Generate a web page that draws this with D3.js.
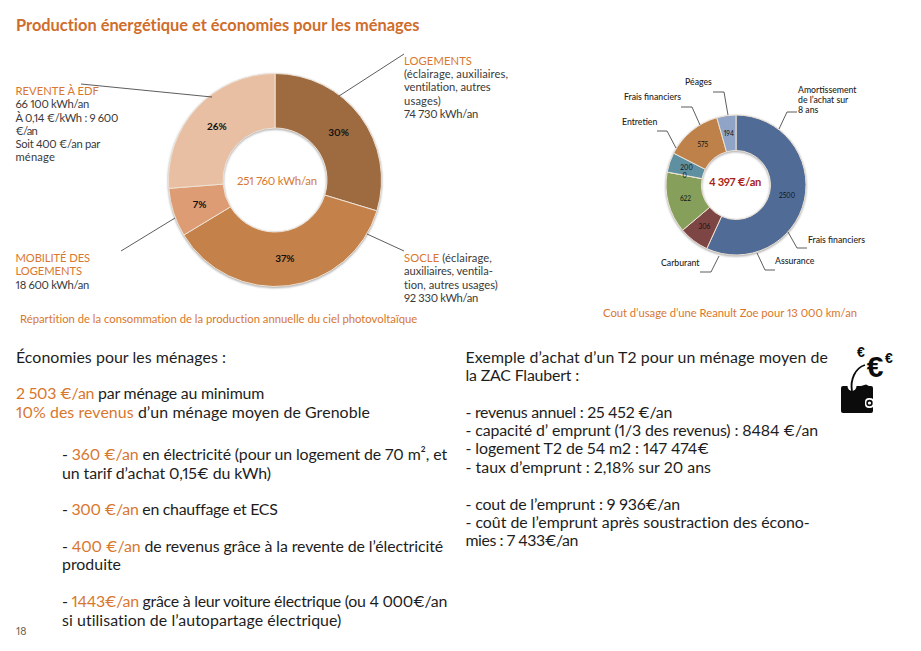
<!DOCTYPE html>
<html lang="fr">
<head>
<meta charset="utf-8">
<script src="https://cdn.jsdelivr.net/npm/d3@7"></script>
<style>
  html, body { margin: 0; padding: 0; background: #fff; }
  svg { display: block; font-family: Lato, "Open Sans", sans-serif; font-variant-numeric: proportional-nums; }
</style>
</head>
<body>
<div id="chart"></div>
<script>
// Production donut
const prodCategories = ["Logements", "Socle", "Mobilité des logements", "Revente à EDF"];
const prodValues = [74730, 92330, 18600, 66100];
const prodPercents = ["30%", "37%", "7%", "26%"];
const prodColors = ["#9e6b41", "#c5814a", "#dd9c73", "#e8bfa3"];

// Zoe cost donut
const zoeCategories = ["Amortissement", "Frais financiers", "Assurance", "Carburant", "Entretien", "Frais financiers 2", "Péages"];
const zoeValues = [2500, 306, 622, 0, 200, 575, 194];
const zoeColors = ["#506b95", "#7e4545", "#86a05b", "#86a05b", "#5f90a2", "#bd8149", "#8fa4c6"];

const ORANGE = "#d8772e";
const INK = "#1d1d1d";
const GREY = "#3a3a3a";

const svg = d3.select("#chart").append("svg").attr("width", 921).attr("height", 651);

// Squeeze or spread a line so it ends where it ends in the page
function fitLine(t, x, right) {
  const len = t.node().getComputedTextLength();
  const n = t.text().length;
  t.style("letter-spacing", `${(right - x - len) / n}px`);
}

// Title
svg.append("text").attr("x", 16).attr("y", 31)
  .attr("font-size", 16.4).attr("font-weight", 700).attr("fill", "#cf6d2b")
  .text("Production énergétique et économies pour les ménages")
  .call(fitLine, 16, 420);

function drawDonut(cx, cy, outer, inner, values, colors, labels, labelSize, labelWeight) {
  const pie = d3.pie().sort(null).value((d) => d)(values);
  const arc = d3.arc().innerRadius(inner).outerRadius(outer);
  const g = svg.append("g").attr("transform", `translate(${cx}, ${cy})`);

  g.append("g")
    .style("filter", "drop-shadow(0px 1px 1px rgba(90,90,90,0.55))")
    .selectAll("path")
    .data(pie)
    .join("path")
    .attr("d", arc)
    .attr("fill", (d, i) => colors[i])
    .attr("stroke", "#eee3d6")
    .attr("stroke-width", 1);

  g.selectAll("text")
    .data(pie)
    .join("text")
    .attr("transform", (d) => `translate(${arc.centroid(d)})`)
    .attr("text-anchor", "middle")
    .attr("dy", "0.35em")
    .attr("font-size", labelSize)
    .attr("font-weight", labelWeight)
    .attr("fill", "#111")
    .text((d, i) => labels[i]);
  return g;
}

drawDonut(275, 180, 106.5, 52, prodValues, prodColors, prodPercents, 10, 700);
drawDonut(736, 185, 70, 34.5, zoeValues, zoeColors, zoeValues.map(String), 6.6, 400);

svg.append("text").attr("x", 237).attr("y", 185)
  .attr("font-size", 11.4).attr("fill", ORANGE).text("251 760 kWh/an")
  .call(fitLine, 237, 317);
svg.append("text").attr("x", 709).attr("y", 185.5)
  .attr("font-size", 11.2).attr("font-weight", 700).attr("fill", "#a81f20").text("4 397 €/an")
  .call(fitLine, 709, 761);

// Leader lines
const leaderLines = [
  [[339, 96], [404, 54]],
  [[367, 234], [404, 251]],
  [[175, 218], [121, 251]],
  [[212, 97], [81, 84]],
  [[779, 129], [787, 112], [797, 112]],
  [[728, 115], [724, 92], [713, 92]],
  [[700, 125], [692, 107], [681, 107]],
  [[676, 148], [667, 131], [657, 131]],
  [[719, 256], [711, 272], [700, 272]],
  [[757, 253], [765, 270], [775, 270]],
  [[788, 232], [797, 248], [807, 248]],
];
svg.append("g").selectAll("path")
  .data(leaderLines)
  .join("path")
  .attr("d", d3.line())
  .attr("fill", "none")
  .attr("stroke", "#333")
  .attr("stroke-width", 0.8);

// Text blocks : each line is [baseline, right edge, runs], each run is [text, color]
function drawLines(lines, size, x) {
  lines.forEach(([y, right, runs]) => {
    const t = svg.append("text").attr("x", x).attr("y", y).attr("font-size", size);
    runs.forEach(([txt, col]) => t.append("tspan").attr("fill", col).text(txt));
    fitLine(t, x, right);
  });
}

drawLines([
  [95, 99, [["REVENTE À EDF", ORANGE]]],
  [108, 89, [["66 100 kWh/an", GREY]]],
  [121.5, 118, [["À 0,14 €/kWh : 9 600", GREY]]],
  [134.5, 37, [["€/an", GREY]]],
  [148, 100, [["Soit 400 €/an par", GREY]]],
  [161, 55, [["ménage", GREY]]],
  [262, 90, [["MOBILITÉ DES", ORANGE]]],
  [275, 82, [["LOGEMENTS", ORANGE]]],
  [288.5, 89, [["18 600 kWh/an", GREY]]],
], 11.2, 15.5);

drawLines([
  [65, 472, [["LOGEMENTS", ORANGE]]],
  [78, 508, [["(éclairage, auxiliaires,", GREY]]],
  [91, 491, [["ventilation, autres", GREY]]],
  [104.5, 441, [["usages)", GREY]]],
  [117.5, 478, [["74 730 kWh/an", GREY]]],
  [262, 492, [["SOCLE ", ORANGE], ["(éclairage,", GREY]]],
  [275, 493, [["auxiliaires, ventila-", GREY]]],
  [288.5, 498, [["tion, autres usages)", GREY]]],
  [301.5, 478, [["92 330 kWh/an", GREY]]],
], 11.2, 404);

svg.append("text").attr("x", 20).attr("y", 323).attr("font-size", 11.3).attr("fill", ORANGE)
  .text("Répartition de la consommation de la production annuelle du ciel photovoltaïque")
  .call(fitLine, 20, 418);
svg.append("text").attr("x", 603).attr("y", 317).attr("font-size", 11.25).attr("fill", ORANGE)
  .text("Cout d’usage d’une Reanult Zoe pour 13 000 km/an")
  .call(fitLine, 603, 857);

// Small donut labels
const zoeLabels = [
  [685, 85, "Péages"],
  [624, 100, "Frais financiers"],
  [622, 125, "Entretien"],
  [798, 93, "Amortissement"],
  [798, 103, "de l’achat sur"],
  [798, 113, "8 ans"],
  [808, 243, "Frais financiers"],
  [775, 264, "Assurance"],
  [661, 266, "Carburant"],
];
svg.append("g").selectAll("text")
  .data(zoeLabels)
  .join("text")
  .attr("x", (d) => d[0])
  .attr("y", (d) => d[1])
  .attr("font-size", 8.7)
  .attr("font-weight", 500)
  .attr("fill", "#222")
  .text((d) => d[2]);

// Body text
drawLines([
  [363, 226, [["Économies pour les ménages :", INK]]],
  [399, 264, [["2 503 €/an ", ORANGE], ["par ménage au minimum", INK]]],
  [418, 370, [["10% des revenus ", ORANGE], ["d’un ménage moyen de Grenoble", INK]]],
], 15.9, 16);

drawLines([
  [460, 447, [["- ", INK], ["360 €/an ", ORANGE], ["en électricité (pour un logement de 70 m², et", INK]]],
  [479, 271, [["un tarif d’achat 0,15€ du kWh)", INK]]],
  [515, 277, [["- ", INK], ["300 €/an ", ORANGE], ["en chauffage et ECS", INK]]],
  [552, 443, [["- ", INK], ["400 €/an ", ORANGE], ["de revenus grâce à la revente de l’électricité", INK]]],
  [570, 121, [["produite", INK]]],
  [607, 447, [["- ", INK], ["1443€/an ", ORANGE], ["grâce à leur voiture électrique (ou 4 000€/an", INK]]],
  [626, 342, [["si utilisation de l’autopartage électrique)", INK]]],
], 15.9, 62);

drawLines([
  [363, 828, [["Exemple d’achat d’un T2 pour un ménage moyen de", INK]]],
  [381, 579, [["la ZAC Flaubert :", INK]]],
  [418, 672, [["- revenus annuel : 25 452 €/an", INK]]],
  [436, 818, [["- capacité d’ emprunt (1/3 des revenus) : 8484 €/an", INK]]],
  [454, 709, [["- logement T2 de 54 m2 : 147 474€", INK]]],
  [473, 711, [["- taux d’emprunt : 2,18% sur 20 ans", INK]]],
  [510, 680, [["- cout de l’emprunt : 9 936€/an", INK]]],
  [528, 810, [["- coût de l’emprunt après soustraction des écono-", INK]]],
  [546, 578, [["mies : 7 433€/an", INK]]],
], 15.9, 465.5);

svg.append("text").attr("x", 16).attr("y", 635).attr("font-size", 10.5).attr("fill", "#6b6250").text("18");

// Wallet icon
const wallet = svg.append("g").attr("fill", "#0b0b0b");
wallet.append("path")
  .attr("d", "M841 388 Q841 386 843 386 L861 386 L866 384.5 L869 386 L871 386 Q873 386 873 388 L873 411 Q873 413 871 413 L843 413 Q841 413 841 411 Z");
wallet.append("path").attr("d", "M847.5 386 A4.5 5 0 0 0 856.5 386 Z").attr("fill", "#fff");
wallet.append("rect").attr("x", 865).attr("y", 398).attr("width", 9).attr("height", 10).attr("rx", 4).attr("fill", "#fff");
wallet.append("circle").attr("cx", 869.5).attr("cy", 403).attr("r", 2.4).attr("fill", "none").attr("stroke", "#0b0b0b").attr("stroke-width", 1.6);
wallet.append("path")
  .attr("d", "M852 391 C850 380 855 368 865 365")
  .attr("fill", "none").attr("stroke", "#0b0b0b").attr("stroke-width", 1.8);
[[875, 377, 30], [861, 357, 14], [889, 363, 14]].forEach(([x, y, s]) => {
  wallet.append("text").attr("x", x).attr("y", y).attr("text-anchor", "middle")
    .attr("font-size", s).attr("font-weight", 700).attr("font-family", "Liberation Sans").text("€");
});
</script>
</body>
</html>
